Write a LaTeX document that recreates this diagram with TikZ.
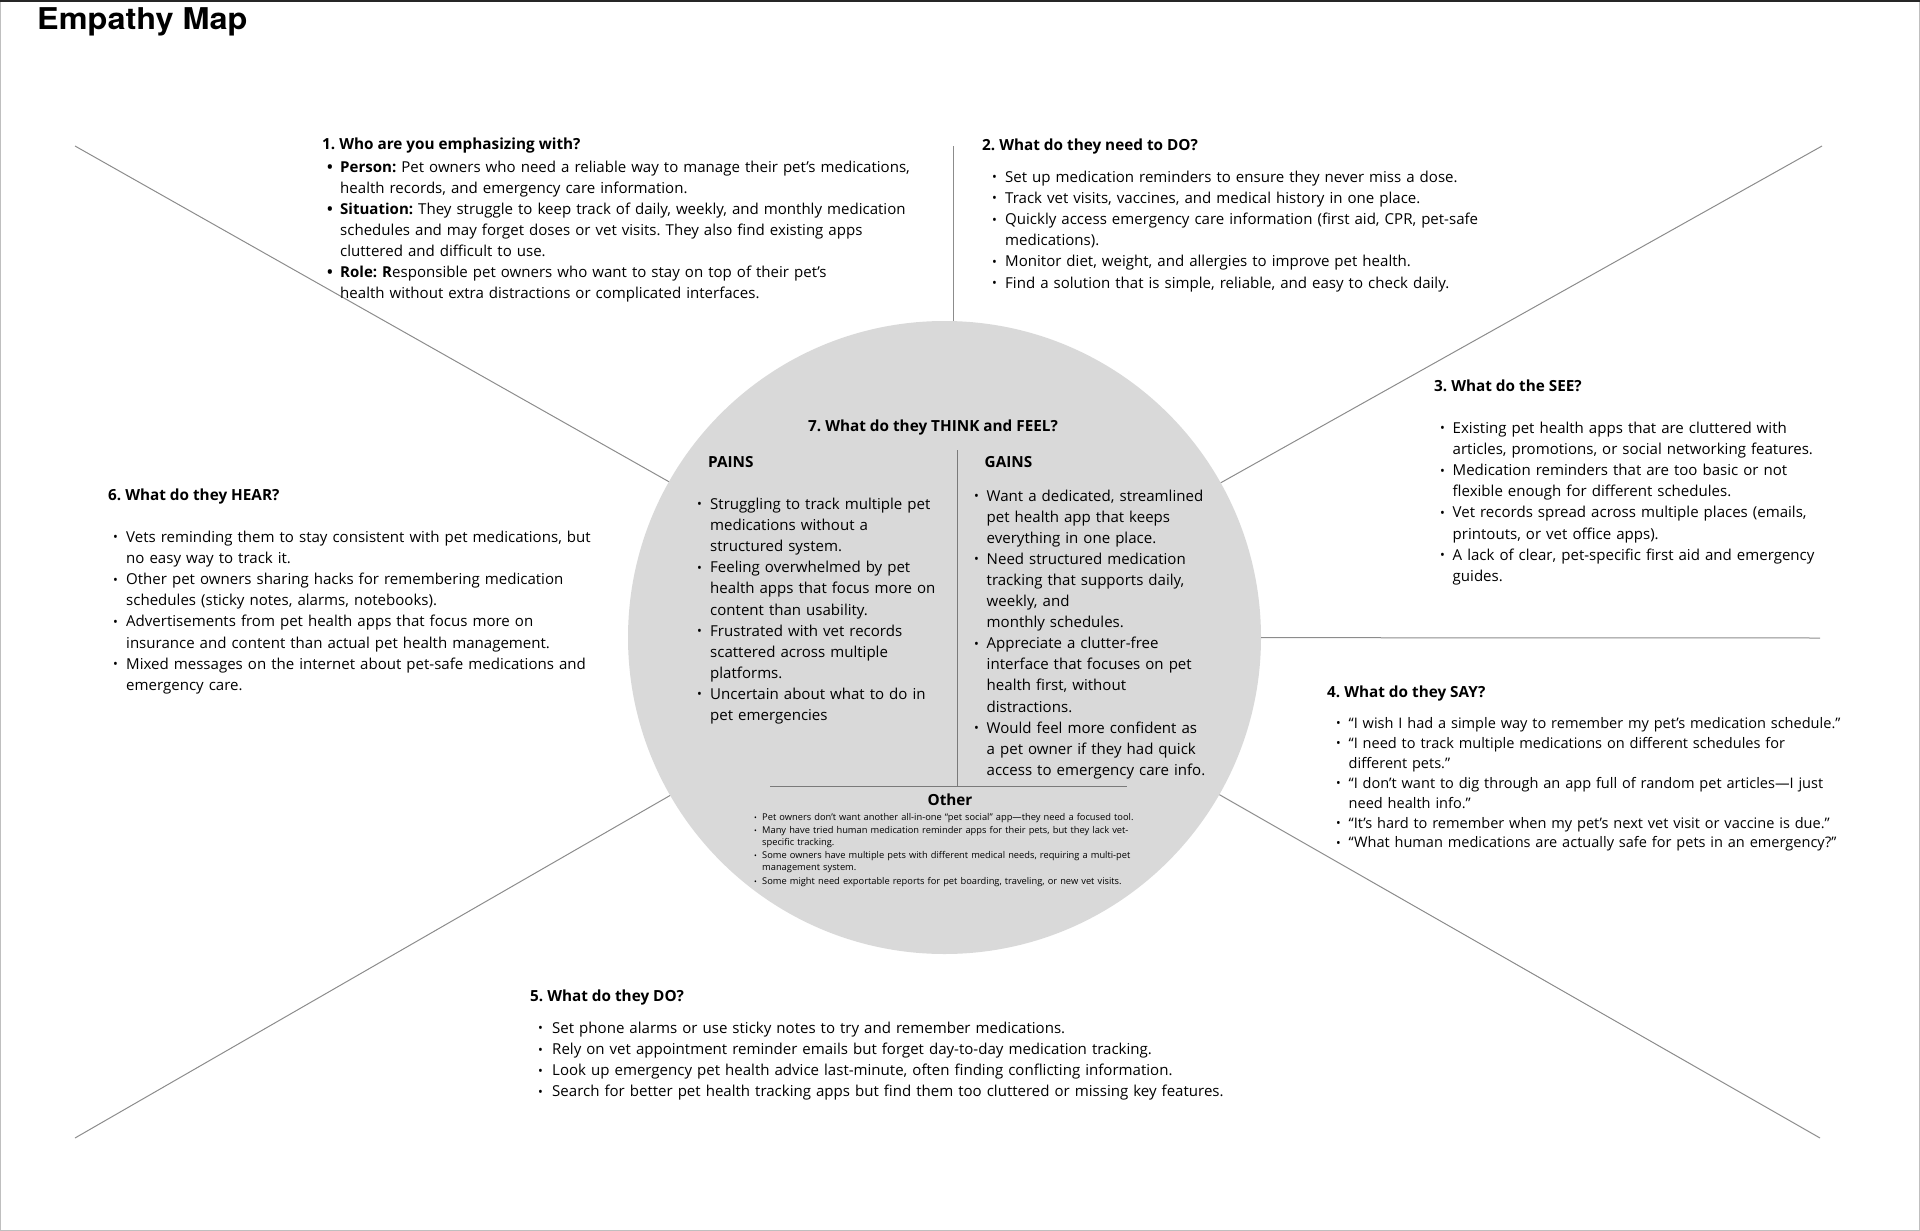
\documentclass[tikz,border=0pt]{standalone}
\usepackage{fontspec}
\setmainfont{Open Sans}
\newfontfamily\titlefont[FakeStretch=1.08]{TeX Gyre Heros}
\usetikzlibrary{positioning}
\frenchspacing

\definecolor{circfill}{HTML}{D9D9D9}
\definecolor{spokegray}{HTML}{8C8C8C}
\definecolor{divgray}{HTML}{7A7A7A}

% bullet glyph and one list item with hanging indent
\newcommand{\bdot}{\raisebox{0.04em}{\scalebox{0.85}{\textbullet}}}
\newcommand{\itm}[2][12.5pt]{\hangindent=#1\hangafter=1\leavevmode\makebox[#1][l]{\bdot}#2\par}
\newcommand{\bitm}[2][12.5pt]{\hangindent=#1\hangafter=1\leavevmode\makebox[#1][l]{\bfseries\textbullet}#2\par}
\newcommand{\oitm}[1]{\hangindent=8pt\hangafter=1\leavevmode\makebox[8pt][l]{\scalebox{0.8}{\textbullet}}#1\par\vspace{2pt}}

\begin{document}
\begin{tikzpicture}[
    x=1pt, y=-1pt, % pixel grid, y pointing down
    spoke/.style={draw=spokegray, line width=1pt}, % Style for the map lines
    divider/.style={draw=divgray, line width=1pt}, % Style for the lines inside the circle
    head/.style={anchor=base west, inner sep=0pt, font=\bfseries\fontsize{15.3}{21.1}\selectfont}, % Style for section titles
    blist/.style={anchor=base west, inner sep=0pt, text width=#1, align=left, font=\fontsize{15.05}{21.1}\selectfont}, % Style for bullet lists
    smalllist/.style={anchor=base west, inner sep=0pt, text width=#1, align=left, font=\fontsize{9.3}{11.6}\selectfont} % Style for the Other list
]
    \useasboundingbox (0,0) rectangle (1920,1231);

    % Frame
    \draw[gray!50] (0.5,0.5) rectangle (1919.5,1230.5);
    \draw[black!85, line width=2pt] (0,1) -- (1920,1);

    % Title
    \node[anchor=base west, inner sep=0pt, font=\titlefont\bfseries\fontsize{30}{36}\selectfont] (title) at (37,29.5) {Empathy Map};

    % Centre circle
    \node[circle, fill=circfill, minimum size=633pt, inner sep=0pt] (circ) at (944.5,637.5) {};

    % Outer ends of the lines
    \coordinate (ulout) at (75,146);
    \coordinate (topout) at (953,146);
    \coordinate (urout) at (1822,146);
    \coordinate (rout) at (1820,638);
    \coordinate (lrout) at (1820,1138);
    \coordinate (llout) at (75,1138);

    \draw[spoke] (ulout) -- (circ);
    \draw[spoke] (topout) -- (topout |- circ.north);
    \draw[spoke] (urout) -- (circ);
    \draw[spoke] (rout) -- (circ);
    \draw[spoke] (lrout) -- (circ);
    \draw[spoke] (llout) -- (circ);

    % 1. Who
    \node[head] (who) at (322,149.5) {1. Who are you emphasizing with?};
    \node[blist=620pt] (wholist) at (327,172) {%
        \bitm[13pt]{\textbf{Person:} Pet owners who need a reliable way to manage their pet’s medications,\newline health records, and emergency care information.}
        \bitm[13pt]{\textbf{Situation:} They struggle to keep track of daily, weekly, and monthly medication\newline schedules and may forget doses or vet visits. They also find existing apps\newline cluttered and difficult to use.}
        \bitm[13pt]{\textbf{Role: R}esponsible pet owners who want to stay on top of their pet’s\newline health without extra distractions or complicated interfaces.}};

    % 2. Need to do
    \node[head] (needdo) at (982,150) {2. What do they need to DO?};
    \node[blist=560pt] (needdolist) at (992,182.5) {%
        \itm[13pt]{Set up medication reminders to ensure they never miss a dose.}
        \itm[13pt]{Track vet visits, vaccines, and medical history in one place.}
        \itm[13pt]{Quickly access emergency care information (first aid, CPR, pet-safe\newline medications).}
        \itm[13pt]{Monitor diet, weight, and allergies to improve pet health.}
        \itm[13pt]{Find a solution that is simple, reliable, and easy to check daily.}};

    % 3. See
    \node[head] (see) at (1434,391) {3. What do the SEE?};
    \node[blist=440pt] (seelist) at (1440,433.5) {%
        \itm{Existing pet health apps that are cluttered with\newline articles, promotions, or social networking features.}
        \itm{Medication reminders that are too basic or not\newline flexible enough for different schedules.}
        \itm{Vet records spread across multiple places (emails,\newline printouts, or vet office apps).}
        \itm{A lack of clear, pet-specific first aid and emergency\newline guides.}};

    % 4. Say
    \node[head] (say) at (1327,697) {4. What do they SAY?};
    \node[blist=560pt, font=\fontsize{14.55}{19.9}\selectfont] (saylist) at (1336,728.5) {%
        \itm{“I wish I had a simple way to remember my pet’s medication schedule.”}
        \itm{“I need to track multiple medications on different schedules for\newline different pets.”}
        \itm{“I don’t want to dig through an app full of random pet articles—I just\newline need health info.”}
        \itm{“It’s hard to remember when my pet’s next vet visit or vaccine is due.”}
        \itm{“What human medications are actually safe for pets in an emergency?”}};

    % 5. Do
    \node[head] (does) at (530,1001) {5. What do they DO?};
    \node[blist=740pt] (doeslist) at (538,1033.5) {%
        \itm[14pt]{Set phone alarms or use sticky notes to try and remember medications.}
        \itm[14pt]{Rely on vet appointment reminder emails but forget day-to-day medication tracking.}
        \itm[14pt]{Look up emergency pet health advice last-minute, often finding conflicting information.}
        \itm[14pt]{Search for better pet health tracking apps but find them too cluttered or missing key features.}};

    % 6. Hear
    \node[head] (hear) at (108,500) {6. What do they HEAR?};
    \node[blist=500pt] (hearlist) at (113,542.5) {%
        \itm[13pt]{Vets reminding them to stay consistent with pet medications, but\newline no easy way to track it.}
        \itm[13pt]{Other pet owners sharing hacks for remembering medication\newline schedules (sticky notes, alarms, notebooks).}
        \itm[13pt]{Advertisements from pet health apps that focus more on\newline insurance and content than actual pet health management.}
        \itm[13pt]{Mixed messages on the internet about pet-safe medications and\newline emergency care.}};

    % 7. Think and feel
    \node[head] (think) at (808,431.5) {7. What do they THINK and FEEL?};
    \node[head] (pains) at (708,467) {PAINS};
    \node[head] (gains) at (984.5,467) {GAINS};

    \node[blist=250pt] (painslist) at (697,509.5) {%
        \itm[13pt]{Struggling to track multiple pet\newline medications without a\newline structured system.}
        \itm[13pt]{Feeling overwhelmed by pet\newline health apps that focus more on\newline content than usability.}
        \itm[13pt]{Frustrated with vet records\newline scattered across multiple\newline platforms.}
        \itm[13pt]{Uncertain about what to do in\newline pet emergencies}};

    \node[blist=260pt] (gainslist) at (974,501) {%
        \itm{Want a dedicated, streamlined\newline pet health app that keeps\newline everything in one place.}
        \itm{Need structured medication\newline tracking that supports daily,\newline weekly, and\newline monthly schedules.}
        \itm{Appreciate a clutter-free\newline interface that focuses on pet\newline health first, without\newline distractions.}
        \itm{Would feel more confident as\newline a pet owner if they had quick\newline access to emergency care info.}};

    % Dividers inside the circle
    \coordinate (divtop) at (957.5,450);
    \coordinate (divbot) at (957.5,786);
    \coordinate (otherleft) at (770,786);
    \coordinate (otherright) at (1127,786);
    \draw[divider] (divtop) -- (divbot);
    \draw[divider] (otherleft) -- (otherright);

    % Other
    \node[head, anchor=base] (other) at (950,805) {Other};
    \node[smalllist=420pt] (otherlist) at (754,820) {%
        \oitm{Pet owners don’t want another all-in-one “pet social” app—they need a focused tool.}
        \oitm{Many have tried human medication reminder apps for their pets, but they lack vet-\newline specific tracking.}
        \oitm{Some owners have multiple pets with different medical needs, requiring a multi-pet\newline management system.}
        \oitm{Some might need exportable reports for pet boarding, traveling, or new vet visits.}};

\end{tikzpicture}
\end{document}
